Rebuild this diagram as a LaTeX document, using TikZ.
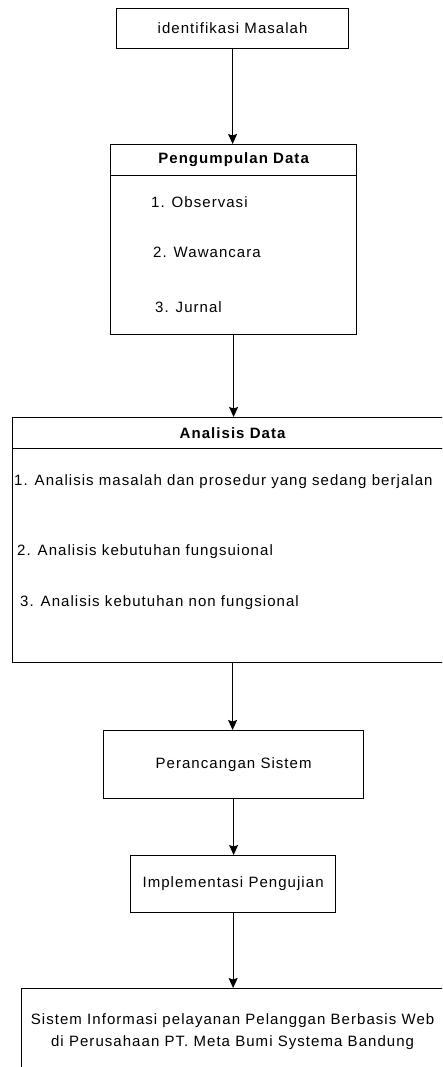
\documentclass[tikz,border=0pt]{standalone}
\usepackage{fontspec}
\setmainfont{Liberation Sans}[LetterSpace=7]
\usetikzlibrary{arrows.meta,positioning}
\tikzset{
  box/.style={draw, line width=1.2pt, inner sep=0pt, anchor=north west},
  head/.style={box, font=\fontsize{15}{18}\selectfont\bfseries},
  item/.style={anchor=west, inner sep=0pt},
  flow/.style={-{Stealth[length=10pt,width=9pt,inset=1.5pt]}, line width=1.2pt},
}
\begin{document}
\begin{tikzpicture}[x=1pt,y=-1pt,font=\fontsize{15}{18}\selectfont]
\useasboundingbox (0,0) rectangle (442,1067);
\clip (0,0) rectangle (442,1067);
% langkah penelitian
\node[box, minimum width=232, minimum height=40] (ident) at (116,8) {identifikasi Masalah};
\node[head, minimum width=246, minimum height=31] (pghead) at (110,144) {Pengumpulan Data};
\node[box, minimum width=246, minimum height=159] (pgbody) at (110,175) {};
\node[item] (obs) at (151,202) {1. Observasi};
\node[item] (waw) at (153,252) {2. Wawancara};
\node[item] (jur) at (155,307) {3. Jurnal};
\node[head, minimum width=440, minimum height=31] (anhead) at (12,417) {Analisis Data};
\node[box, minimum width=440, minimum height=214] (anbody) at (12,448) {};
\node[item] (masalah) at (14,482) {1. Analisis masalah dan prosedur yang sedang berjalan};
\node[item] (fungsi) at (17,552) {2. Analisis kebutuhan fungsuional};
\node[item] (nonfungsi) at (20,603) {3. Analisis kebutuhan non fungsional};
\node[box, minimum width=260, minimum height=68] (rancang) at (103,730) {Perancangan Sistem};
\node[box, minimum width=205, minimum height=57] (impl) at (130,855) {Implementasi Pengujian};
\node[box, minimum width=422, minimum height=86, align=center] (sistem) at (21,988)
  {Sistem Informasi pelayanan Pelanggan Berbasis Web\\[4pt]di Perusahaan PT. Meta Bumi Systema Bandung};
% panah
\draw[flow] (ident.south) -- (ident.south |- pghead.north);
\draw[flow] (pgbody.south) -- (pgbody.south |- anhead.north);
\draw[flow] (anbody.south) -- (anbody.south |- rancang.north);
\draw[flow] (rancang.south) -- (rancang.south |- impl.north);
\draw[flow] (impl.south) -- (impl.south |- sistem.north);
\end{tikzpicture}
\end{document}
